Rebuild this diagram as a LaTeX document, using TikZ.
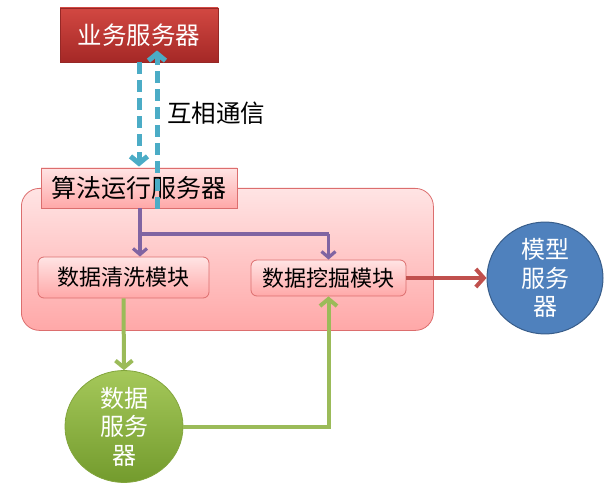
\documentclass[tikz,border=0pt]{standalone}
\usepackage{fontspec}
\setmainfont{Noto Sans CJK SC}
\usetikzlibrary{arrows.meta,shapes.geometric}
\definecolor{cyanl}{RGB}{75,172,198}
\definecolor{purp}{RGB}{128,100,162}
\definecolor{redl}{RGB}{192,80,77}
\definecolor{grn}{RGB}{155,187,89}
\definecolor{blu}{RGB}{79,129,189}
\definecolor{bluedge}{RGB}{56,93,138}
\definecolor{pinktop}{RGB}{255,228,228}
\definecolor{pinkbot}{RGB}{255,168,168}
\definecolor{pinkedge}{RGB}{220,110,110}
\tikzset{
  darkbox/.style={draw={rgb,255:red,150;green,40;blue,38}, line width=0.8pt,
    top color={rgb,255:red,210;green,72;blue,66}, bottom color={rgb,255:red,165;green,40;blue,38},
    text=white, inner sep=0pt, font=\fontsize{24.5}{28}\selectfont},
  pinkbox/.style={draw=pinkedge, line width=0.8pt, top color=pinktop, bottom color=pinkbot,
    inner sep=0pt, text=black},
  modbox/.style={pinkbox, rounded corners=6pt, font=\fontsize{22}{26}\selectfont},
  barb/.tip={Straight Barb[length=7pt,width=17pt]},
  dasharrow/.style={cyanl, line width=5pt, dash pattern=on 12pt off 6pt, -{barb}},
  purparrow/.style={purp, line width=3.2pt, -{Straight Barb[length=6pt,width=14pt]}},
  grnarrow/.style={grn, line width=4pt, -{Straight Barb[length=7pt,width=17pt]}},
  redarrow/.style={redl, line width=4pt, -{Straight Barb[length=8pt,width=18pt]}},
  ellnode/.style={ellipse, inner sep=0pt, text=white, align=center,
    font=\fontsize{24}{28.5}\selectfont},
}
\begin{document}
\begin{tikzpicture}[x=1pt,y=-1pt]
\useasboundingbox (0,0) rectangle (614,484);
% container
\node[pinkbox, rounded corners=18pt, minimum width=412pt, minimum height=142pt, anchor=north west] (cont) at (21,188) {};
% top server
\node[darkbox, minimum width=158pt, minimum height=54pt] (biz) at (139,35) {业务服务器};
% algorithm server
\node[pinkbox, minimum width=196pt, minimum height=40pt, font=\fontsize{25}{28}\selectfont] (alg) at (139,188) {算法运行服务器};
% modules
\node[modbox, minimum width=171pt, minimum height=41pt] (clean) at (123.5,277.5) {数据清洗模块};
\node[modbox, minimum width=155pt, minimum height=36pt] (mine) at (328.5,278) {数据挖掘模块};
% ellipses
\node[ellnode, draw=bluedge, line width=1pt, fill=blu, minimum width=116pt, minimum height=100pt] (model) at (545,278) {模型\\服务\\器};
\node[ellnode, draw={rgb,255:red,130;green,165;blue,60}, line width=0.8pt,
  top color={rgb,255:red,165;green,200;blue,90}, bottom color={rgb,255:red,115;green,155;blue,45},
  minimum width=118pt, minimum height=101pt] (data) at (124,426.5) {数据\\服务\\器};
% label
\node[font=\fontsize{24.5}{28}\selectfont, inner sep=0pt] (lbl) at (216,113) {互相通信};
% cyan dashed arrows
\draw[dasharrow] (biz.south) -- ([yshift=1pt]alg.north);
\draw[dasharrow] ([xshift=18pt,yshift=-1pt]alg.north) ++(0,40) -- ([xshift=18pt,yshift=12pt]biz.south);
% purple arrows
\coordinate (br) at (140,234);
\draw[purparrow] (br |- alg.south) -- (br |- clean.north);
\draw[purp, line width=3.2pt] (br) -- (br -| mine.north);
\draw[purparrow] (br -| mine.north) -- (mine.north);
% red arrow
\draw[redarrow] (mine.east) -- (model.west);
% green arrows
\draw[grnarrow] (clean.south) -- (data.north);
\draw[grnarrow] (data.east) -| (mine.south);
\end{tikzpicture}
\end{document}
